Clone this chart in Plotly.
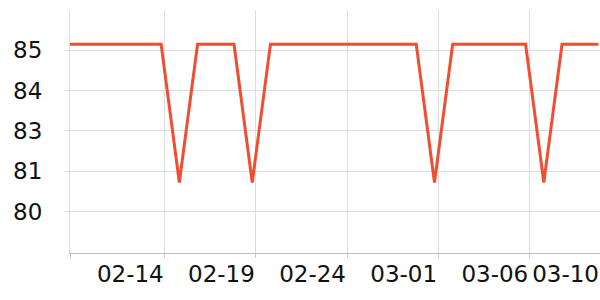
import plotly.graph_objects as go
import pandas as pd

dates = pd.date_range("2025-02-09", "2025-03-10", freq="D").strftime("%Y-%m-%d").tolist()
values = [85.18] * len(dates)
dip_days = ["2025-02-15", "2025-02-19", "2025-03-01", "2025-03-07"]
dip_value = 80.9
values = [dip_value if d in dip_days else v for d, v in zip(dates, values)]

x_tick_vals = ["2025-02-09", "2025-02-14 04:48", "2025-02-19 04:48", "2025-02-24 04:48",
               "2025-03-01 04:48", "2025-03-06 04:48", "2025-03-10 02:00"]
x_tick_text = ["", "02-14", "02-19", "02-24", "03-01", "03-06", "03-10"]
y_tick_vals = [80, 81.25, 82.5, 83.75, 85]
y_tick_text = ["80", "81", "83", "84", "85"]

fig = go.Figure()
fig.add_trace(go.Scatter(x=dates, y=values, mode="lines",
                         line=dict(color="#f04e30", width=3), hoverinfo="skip",
                         cliponaxis=False))

fig.update_layout(
    width=600, height=300,
    margin=dict(l=70, r=0, t=10, b=47),
    paper_bgcolor="white", plot_bgcolor="white",
    showlegend=False,
    font=dict(family="DejaVu Sans", size=23, color="#111111"),
)
fig.update_xaxes(
    type="date", range=["2025-02-09", "2025-03-10 02:00"],
    tickvals=x_tick_vals, ticktext=x_tick_text,
    ticklabelposition="outside left", tickangle=0,
    showgrid=True, gridcolor="#dddddd", gridwidth=1,
    showline=True, linecolor="#bbbbbb", linewidth=1,
    ticks="outside", ticklen=4, tickcolor="#cccccc",
    zeroline=False,
)
fig.update_yaxes(
    range=[78.72, 86.24],
    tickvals=y_tick_vals, ticktext=y_tick_text,
    showgrid=True, gridcolor="#dddddd", gridwidth=1,
    showline=True, linecolor="#dddddd", linewidth=1,
    ticks="outside", ticklen=4, tickcolor="#dddddd",
    ticklabelstandoff=18,
    zeroline=False,
)

fig.write_html("out.html")
